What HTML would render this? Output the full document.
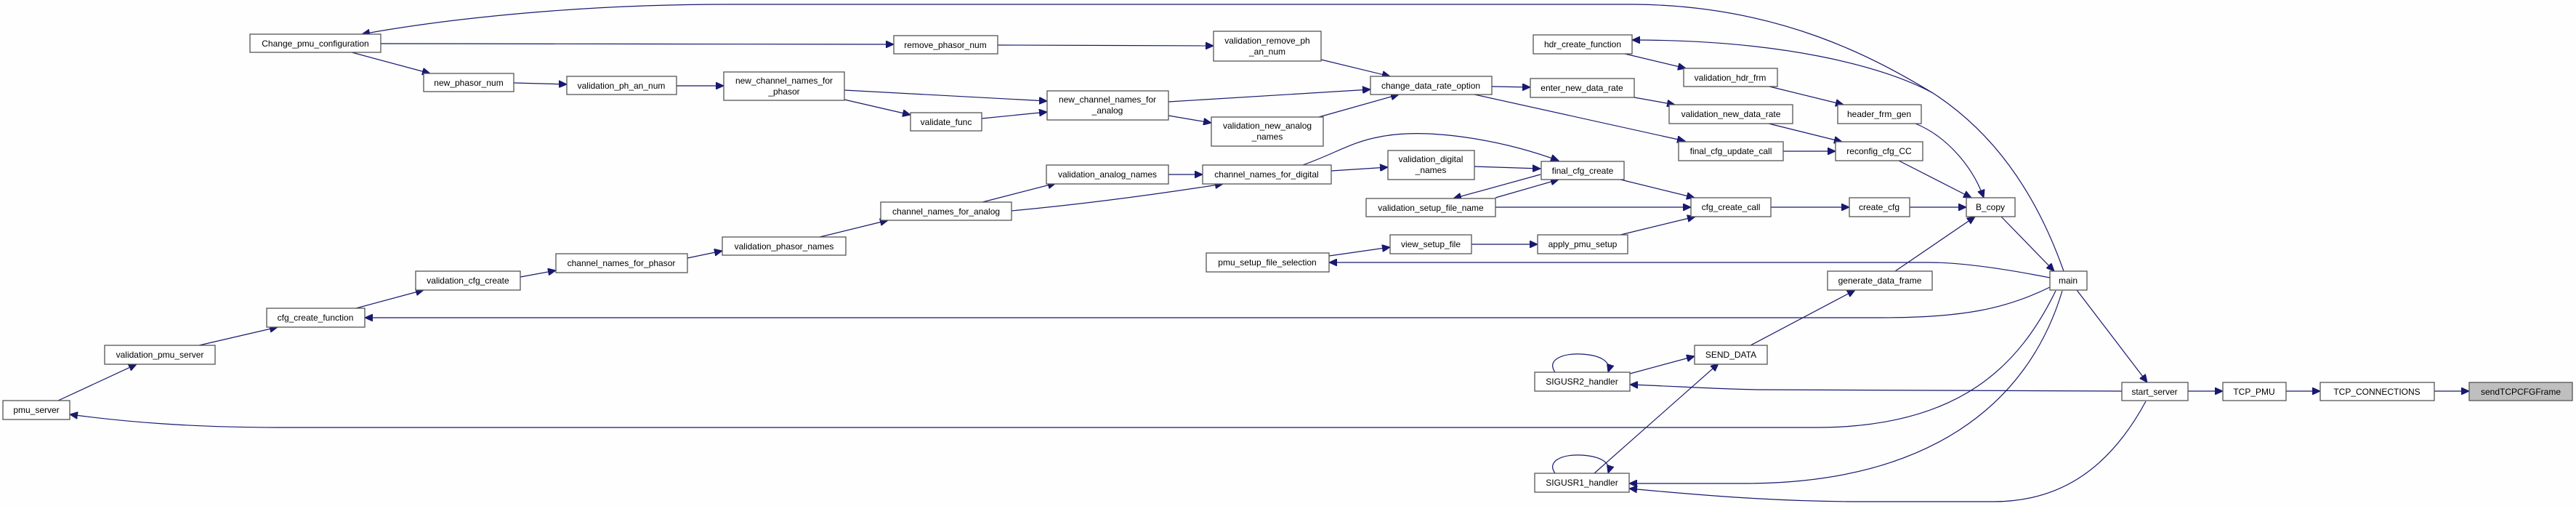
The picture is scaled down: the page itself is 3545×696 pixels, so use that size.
<!DOCTYPE html>
<html><head><meta charset="utf-8"><style>
html,body{margin:0;padding:0;background:#fdfefd;}
svg{display:block;}
text{font-family:"Liberation Sans",Arial,sans-serif;font-size:12px;fill:#000;text-anchor:middle;}
.n rect{fill:#fff;stroke:#555;stroke-width:1.3;}
.e{fill:none;stroke:#191970;stroke-width:1.2;marker-end:url(#a);}
.l{fill:none;stroke:#191970;stroke-width:1.2;}
</style></head><body>
<svg width="3545" height="696" viewBox="0 0 3545 696" xmlns="http://www.w3.org/2000/svg">
<defs><marker id="a" markerUnits="userSpaceOnUse" markerWidth="12" markerHeight="10" refX="11" refY="5" orient="auto"><path d="M0,0 L11,5 L0,10 Z" fill="#191970" stroke="#191970"/></marker></defs>

<!-- edges -->
<path class="e" d="M2840,373 C2800,260 2740,180 2660,128 C2580,80 2450,8 2250,6 L1000,6 C800,6 620,25 498,47"/>
<path class="e" d="M2660,128 C2590,90 2450,55 2246,55"/>
<path class="e" d="M524,60 L1230,61"/>
<path class="e" d="M484,72 L592,101"/>
<path class="e" d="M707,114 L780,116"/>
<path class="e" d="M931,118 L996,118"/>
<path class="e" d="M1162,124 L1441,139"/>
<path class="e" d="M1162,137 L1253,158"/>
<path class="e" d="M1351,163 L1441,154"/>
<path class="e" d="M1373,62 L1670,63"/>
<path class="e" d="M1818,82 L1913,105"/>
<path class="e" d="M1608,140 L1886,123"/>
<path class="e" d="M1608,159 L1667,169"/>
<path class="e" d="M1815,161 L1925,130"/>
<path class="e" d="M2053,119 L2106,120"/>
<path class="e" d="M2029,130 L2319,194"/>
<path class="e" d="M2249,134 L2305,144"/>
<path class="e" d="M2236,74 L2320,94"/>
<path class="e" d="M2435,119 L2537,144"/>
<path class="e" d="M2434,170 L2535,195"/>
<path class="e" d="M2454,208 L2526,208"/>
<path class="e" d="M2636,170 C2680,188 2715,230 2730,272"/>
<path class="e" d="M2613,221 L2713,272"/>
<path class="e" d="M2628,285 L2706,285"/>
<path class="e" d="M2437,285 L2545,285"/>
<path class="e" d="M2230,247 L2332,272"/>
<path class="e" d="M2230,323 L2333,298"/>
<path class="e" d="M2058,285 L2327,285"/>
<path class="e" d="M2754,298 L2827,373"/>
<path class="e" d="M2608,373 L2718,298"/>
<path class="e" d="M1832,235 L1910,230"/>
<path class="e" d="M2029,229 L2120,232"/>
<path class="e" d="M1793,227 C1840,210 1860,195 1900,188 C1960,176 2060,190 2145,221"/>
<path class="e" d="M2120,240 L2000,273"/>
<path class="e" d="M2058,272 L2145,247"/>
<path class="e" d="M1608,240 L1655,240"/>
<path class="e" d="M1352,278 L1453,252"/>
<path class="e" d="M1392,290 C1500,280 1600,266 1683,253"/>
<path class="e" d="M1128,326 L1222,303"/>
<path class="e" d="M946,355 L994,345"/>
<path class="e" d="M716,381 L765,372"/>
<path class="e" d="M490,424 L583,399"/>
<path class="e" d="M274,475 L382,450"/>
<path class="e" d="M80,551 L188,501"/>
<path class="e" d="M2821,395 C2760,425 2700,437 2590,437 L502,437"/>
<path class="e" d="M2821,382 C2760,370 2700,361 2655,361 L1829,361"/>
<path class="e" d="M2829,400 C2780,500 2700,588 2500,588 L390,588 C260,588 170,580 96,570"/>
<path class="e" d="M2838,400 C2790,560 2650,665 2400,665 L2242,665"/>
<path class="e" d="M2953,552 C2900,650 2830,690 2743,690 L2560,690 C2450,690 2350,682 2242,672"/>
<path class="e" d="M2920,538 L2420,536 C2360,535 2300,531 2243,529"/>
<path class="e" d="M2858,399 L2955,526"/>
<path class="e" d="M3011,538 L3059,538"/>
<path class="e" d="M3146,538 L3193,538"/>
<path class="e" d="M3350,538 L3398,538"/>
<path class="e" d="M2243,514 L2332,490"/>
<path class="e" d="M2194,651 L2365,500"/>
<path class="e" d="M2409,475 L2553,399"/>
<path class="e" d="M1829,352 L1913,340"/>
<path class="e" d="M2025,336 L2116,336"/>
<path class="e" d="M2140,512 C2128,495 2150,486 2175,487 C2200,488 2218,496 2213,512"/>
<path class="e" d="M2140,651 C2128,634 2150,625 2175,626 C2200,627 2218,635 2213,651"/>

<!-- nodes -->
<g class="n">
<rect x="344" y="47" width="180" height="25"/><text x="434" y="64">Change_pmu_configuration</text>
<rect x="583" y="101" width="124" height="25"/><text x="645" y="118">new_phasor_num</text>
<rect x="1230" y="49" width="143" height="25"/><text x="1301" y="66">remove_phasor_num</text>
<rect x="780" y="105" width="151" height="25"/><text x="855" y="122">validation_ph_an_num</text>
<rect x="996" y="99" width="166" height="39"/><text x="1079" y="115">new_channel_names_for</text><text x="1079" y="130">_phasor</text>
<rect x="1253" y="155" width="98" height="25"/><text x="1302" y="172">validate_func</text>
<rect x="1212" y="278" width="180" height="25"/><text x="1302" y="295">channel_names_for_analog</text>
<rect x="994" y="326" width="170" height="25"/><text x="1079" y="343">validation_phasor_names</text>
<rect x="572" y="373" width="144" height="26"/><text x="644" y="390">validation_cfg_create</text>
<rect x="765" y="349" width="181" height="26"/><text x="855" y="366">channel_names_for_phasor</text>
<rect x="367" y="424" width="135" height="26"/><text x="434" y="441">cfg_create_function</text>
<rect x="144" y="475" width="152" height="26"/><text x="220" y="492">validation_pmu_server</text>
<rect x="4" y="551" width="92" height="26"/><text x="50" y="568">pmu_server</text>
<rect x="1670" y="43" width="148" height="41"/><text x="1744" y="60">validation_remove_ph</text><text x="1744" y="75">_an_num</text>
<rect x="1886" y="105" width="167" height="25"/><text x="1969" y="122">change_data_rate_option</text>
<rect x="1441" y="125" width="167" height="40"/><text x="1524" y="141">new_channel_names_for</text><text x="1524" y="156">_analog</text>
<rect x="1667" y="161" width="154" height="40"/><text x="1744" y="177">validation_new_analog</text><text x="1744" y="192">_names</text>
<rect x="1440" y="227" width="168" height="26"/><text x="1524" y="244">validation_analog_names</text>
<rect x="1655" y="227" width="177" height="26"/><text x="1743" y="244">channel_names_for_digital</text>
<rect x="1910" y="207" width="119" height="40"/><text x="1969" y="223">validation_digital</text><text x="1969" y="238">_names</text>
<rect x="1880" y="273" width="178" height="25"/><text x="1969" y="290">validation_setup_file_name</text>
<rect x="1913" y="323" width="112" height="26"/><text x="1969" y="340">view_setup_file</text>
<rect x="2116" y="323" width="124" height="26"/><text x="2178" y="340">apply_pmu_setup</text>
<rect x="1660" y="348" width="169" height="26"/><text x="1744" y="365">pmu_setup_file_selection</text>
<rect x="2332" y="475" width="100" height="26"/><text x="2382" y="492">SEND_DATA</text>
<rect x="2112" y="512" width="131" height="26"/><text x="2177" y="529">SIGUSR2_handler</text>
<rect x="2112" y="651" width="130" height="26"/><text x="2177" y="668">SIGUSR1_handler</text>
<rect x="2515" y="373" width="144" height="26"/><text x="2587" y="390">generate_data_frame</text>
<rect x="2821" y="373" width="51" height="26"/><text x="2846" y="390">main</text>
<rect x="2920" y="526" width="91" height="25"/><text x="2965" y="543">start_server</text>
<rect x="3059" y="526" width="87" height="25"/><text x="3102" y="543">TCP_PMU</text>
<rect x="3193" y="526" width="157" height="25"/><text x="3271" y="543">TCP_CONNECTIONS</text>
<rect x="3398" y="526" width="142" height="25" style="fill:#bfbfbf"/><text x="3469" y="543">sendTCPCFGFrame</text>
<rect x="2110" y="48" width="136" height="26"/><text x="2178" y="65">hdr_create_function</text>
<rect x="2317" y="94" width="129" height="25"/><text x="2381" y="111">validation_hdr_frm</text>
<rect x="2106" y="108" width="143" height="26"/><text x="2177" y="125">enter_new_data_rate</text>
<rect x="2297" y="144" width="170" height="26"/><text x="2382" y="161">validation_new_data_rate</text>
<rect x="2529" y="144" width="115" height="26"/><text x="2586" y="161">header_frm_gen</text>
<rect x="2310" y="195" width="144" height="26"/><text x="2382" y="212">final_cfg_update_call</text>
<rect x="2526" y="195" width="120" height="26"/><text x="2586" y="212">reconfig_cfg_CC</text>
<rect x="2121" y="222" width="114" height="25"/><text x="2178" y="239">final_cfg_create</text>
<rect x="2327" y="272" width="110" height="26"/><text x="2382" y="289">cfg_create_call</text>
<rect x="2545" y="272" width="83" height="26"/><text x="2586" y="289">create_cfg</text>
<rect x="2706" y="272" width="67" height="26"/><text x="2739" y="289">B_copy</text>
</g>
</svg>
</body></html>
